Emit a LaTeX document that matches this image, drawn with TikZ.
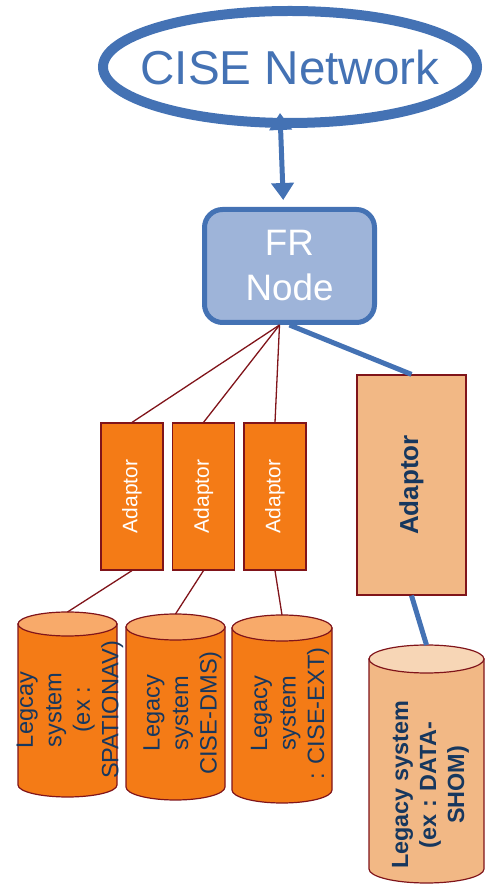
\documentclass[tikz,border=0pt]{standalone}
\usepackage{fontspec}
\setmainfont{Liberation Sans}
\usetikzlibrary{arrows.meta}
\definecolor{netblue}{HTML}{4472B4}
\definecolor{frfill}{HTML}{9EB4D9}
\definecolor{adorange}{HTML}{F47B16}
\definecolor{adtop}{HTML}{F8AA6A}
\definecolor{adlight}{HTML}{F2B885}
\definecolor{adlighttop}{HTML}{F7D6B6}
\definecolor{edgered}{HTML}{80141A}
\definecolor{textnavy}{HTML}{17375E}
\begin{document}
\begin{tikzpicture}[x=1pt,y=1pt,
  adaptorbox/.style={draw=edgered, line width=1.2pt, fill=adorange, minimum width=62pt, minimum height=147pt, inner sep=0pt},
  adaptortext/.style={rotate=90, text=white, font=\fontsize{21}{25}\selectfont},
  dbtext/.style={rotate=90, align=center, text=textnavy, inner sep=0pt, font=\fontsize{23.6}{28.5}\selectfont},
  wire/.style={edgered, line width=1.3pt},
  bluewire/.style={netblue, line width=5pt}]
\useasboundingbox (0,0) rectangle (485,884);
% network and FR node
\node[text=netblue, font=\fontsize{47.6}{57}\selectfont] (cise) at (290,817) {CISE Network};
\draw[netblue, line width=10pt] (cise) ellipse[x radius=187, y radius=56];
\coordinate (cisein) at (280,771);
\node[draw=netblue, line width=5pt, fill=frfill, rounded corners=18pt, minimum width=170pt, minimum height=113pt, align=center, text=white, font=\fontsize{36.8}{45}\selectfont] (fr) at (289.5,618) {FR\\Node};
\draw[bluewire, {Triangle[width=22pt,length=17pt]}-{Triangle[width=22pt,length=17pt]}, shorten >=7pt] (cisein) -- ([xshift=-6pt]fr.north);

% adaptors
\foreach \i/\x in {1/132,2/203.5,3/275} {
  \node[adaptorbox] (a\i) at (\x,387.5) {};
  \node[adaptortext] (a\i t) at (a\i) {Adaptor};
  \draw[wire] ([xshift=-10pt]fr.south) -- (a\i.north);
}
\node[adaptorbox, fill=adlight, minimum width=109pt, minimum height=220pt] (big) at (411.5,399) {};
\node[rotate=90, text=textnavy, font=\bfseries\fontsize{26}{30}\selectfont] (bigt) at (big) {Adaptor};
\draw[bluewire] (fr.south) -- (big.north);

% legacy systems
\foreach \i/\xl/\xr/\yt/\yb/\ry/\tube/\lid in {1/18/117/260/99/12/adorange/adtop,
    2/126/225/257/97/13/adorange/adtop, 3/232/332/256/94/13/adorange/adtop,
    4/369/484/225/15/14/adlight/adlighttop} {
  \draw[draw=edgered, line width=1.2pt, fill=\tube] (\xl,\yt) -- (\xl,\yb)
    arc[start angle=180, end angle=360, x radius={(\xr-\xl)/2}, y radius=\ry] -- (\xr,\yt) -- cycle;
  \draw[draw=edgered, line width=1.2pt, fill=\lid] ({(\xl+\xr)/2},\yt) ellipse[x radius={(\xr-\xl)/2}, y radius=\ry];
  \coordinate (d\i) at ({(\xl+\xr)/2},\yt+\ry);
}
\draw[wire] (a1.south) -- (d1);
\draw[wire] (a2.south) -- (d2);
\draw[wire] (a3.south) -- (d3);
\draw[bluewire] (big.south) -- (d4);

\node[dbtext] (t1) at (70,174) {Legcay\\system\\(ex :\\SPATIONAV)};
\node[dbtext] (t2) at (182.5,171) {Legacy\\system\\CISE-DMS)};
\node[dbtext] (t3) at (290,170.5) {Legacy\\system\\: CISE-EXT)};
\node[dbtext, font=\bfseries\fontsize{23.4}{28}\selectfont] (t4) at (430.5,99) {Legacy system\\(ex : DATA-\\SHOM)};
\end{tikzpicture}
\end{document}
